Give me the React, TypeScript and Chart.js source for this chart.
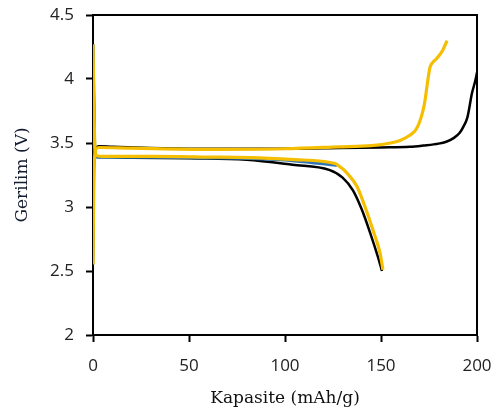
import React, { useEffect, useRef } from "react";
import { Chart, registerables } from "chart.js";

Chart.register(...registerables);

const xTicks = [0, 50, 100, 150, 200];
const yTicks = [2, 2.5, 3, 3.5, 4, 4.5];

const blackChargeX = [0, 0.5, 1.5, 3, 10, 30, 50, 70, 100, 128, 150, 165, 172, 180, 184, 188, 191, 193, 195, 197.4, 199, 200];
const blackChargeY = [2.55, 3.3, 3.46, 3.475, 3.47, 3.46, 3.455, 3.455, 3.455, 3.46, 3.465, 3.47, 3.48, 3.495, 3.51, 3.54, 3.58, 3.63, 3.7, 3.89, 3.98, 4.05];

const blackDischargeX = [0, 0.5, 1, 2, 5, 20, 50, 80, 104, 123, 130, 135.4, 140, 144.3, 148.4, 150.5];
const blackDischargeY = [4.27, 3.8, 3.45, 3.39, 3.39, 3.385, 3.38, 3.37, 3.33, 3.29, 3.23, 3.13, 2.98, 2.8, 2.61, 2.5];

const yellowChargeX = [0, 0.5, 1.5, 3, 20, 60, 100, 128, 145, 155, 160, 165, 168, 170, 172, 173, 174, 175.5, 177, 179, 182, 184.4];
const yellowChargeY = [2.55, 3.3, 3.45, 3.465, 3.46, 3.45, 3.455, 3.47, 3.48, 3.5, 3.52, 3.56, 3.6, 3.66, 3.76, 3.84, 3.95, 4.09, 4.13, 4.16, 4.22, 4.3];

const yellowDischargeX = [0, 0.5, 1, 2, 5, 30, 60, 82, 105, 126, 129, 132, 137.5, 141.7, 145.8, 149.5, 151];
const yellowDischargeY = [4.27, 3.8, 3.45, 3.4, 3.395, 3.395, 3.39, 3.385, 3.37, 3.34, 3.31, 3.27, 3.16, 3.0, 2.82, 2.64, 2.51];

const blueDischargeX = [0, 1, 2, 5, 30, 60, 82, 105, 127];
const blueDischargeY = [4.27, 3.45, 3.39, 3.388, 3.388, 3.383, 3.378, 3.36, 3.325];

const BLACK = "#000000";
const YELLOW = "#F5BE00";
const BLUE = "#2E75B6";

function pts(xs: number[], ys: number[]) {
  return xs.map((x, i) => ({ x, y: ys[i] }));
}

const frame = {
  id: "frame",
  beforeDatasetsDraw(chart: any) {
    const { ctx, chartArea } = chart;
    ctx.save();
    ctx.strokeStyle = "#000";
    ctx.lineWidth = 2;
    ctx.strokeRect(chartArea.left, chartArea.top, chartArea.right - chartArea.left, chartArea.bottom - chartArea.top);
    ctx.restore();
  },
};

const zeroPad = (s: any) => {
  s.paddingTop = 0;
  s.paddingBottom = 0;
  s.paddingLeft = 0;
  s.paddingRight = 0;
};

export default function App() {
  const ref = useRef<HTMLCanvasElement | null>(null);
  useEffect(() => {
    document.body.style.margin = "0";
    let chart: Chart | null = null;
    let cancelled = false;
    const fontsReady = Promise.all([
      document.fonts.load('17px "Open Sans"'),
      document.fonts.load('17px "DejaVu Serif"'),
    ]).catch(() => null);
    fontsReady.then(() => {
      if (cancelled || !ref.current) return;
      const ds = (xs: number[], ys: number[], color: string, w: number) => ({
        data: pts(xs, ys),
        borderColor: color,
        backgroundColor: color,
        borderWidth: w,
        pointRadius: 0,
        fill: false,
        cubicInterpolationMode: "monotone" as const,
      });
      chart = new Chart(ref.current, {
        type: "line",
        data: {
          datasets: [
            ds(yellowChargeX, yellowChargeY, YELLOW, 3.2),
            ds(yellowDischargeX, yellowDischargeY, YELLOW, 3.2),
            ds(blueDischargeX, blueDischargeY, BLUE, 3),
            ds(blackChargeX, blackChargeY, BLACK, 2.5),
            ds(blackDischargeX, blackDischargeY, BLACK, 2.5),
          ],
        },
        options: {
          responsive: false,
          animation: false,
          layout: { padding: { top: 15, right: 19, left: 0, bottom: 0 } },
          plugins: { legend: { display: false }, tooltip: { enabled: false } },
          scales: {
            x: {
              type: "linear",
              min: 0,
              max: 200,
              afterBuildTicks: (s: any) => { s.ticks = xTicks.map((v) => ({ value: v })); },
              afterFit: (s: any) => { s.height = 77; zeroPad(s); },
              ticks: { color: "#222", font: { family: "Open Sans", size: 17 }, padding: 14, maxRotation: 0 },
              grid: { display: true, drawOnChartArea: false, drawTicks: true, tickLength: 7, tickColor: "#000", tickWidth: 2 },
              border: { display: true, color: "#000", width: 2 },
              title: { display: true, text: "Kapasite (mAh/g)", color: "#111", font: { family: "DejaVu Serif", size: 17 }, padding: { top: 0, bottom: 3 } },
            },
            y: {
              type: "linear",
              min: 2,
              max: 4.5,
              afterBuildTicks: (s: any) => { s.ticks = yTicks.map((v) => ({ value: v })); },
              afterFit: (s: any) => { s.width = 93; zeroPad(s); },
              ticks: {
                color: "#222",
                font: { family: "Open Sans", size: 17 },
                padding: 12,
                callback: (v: any) => String(Number(v)),
              },
              grid: { display: true, drawOnChartArea: false, drawTicks: true, tickLength: 7, tickColor: "#000", tickWidth: 2 },
              border: { display: true, color: "#000", width: 2 },
              title: { display: true, text: "Gerilim (V)", color: "#141c30", font: { family: "DejaVu Serif", size: 17 }, padding: { top: 12, bottom: 0 } },
            },
          },
        },
        plugins: [frame],
      });
    });
    return () => {
      cancelled = true;
      if (chart) chart.destroy();
    };
  }, []);
  return (
    <div style={{ width: 496, height: 412 }}>
      <canvas ref={ref} width={496} height={412} />
    </div>
  );
}
